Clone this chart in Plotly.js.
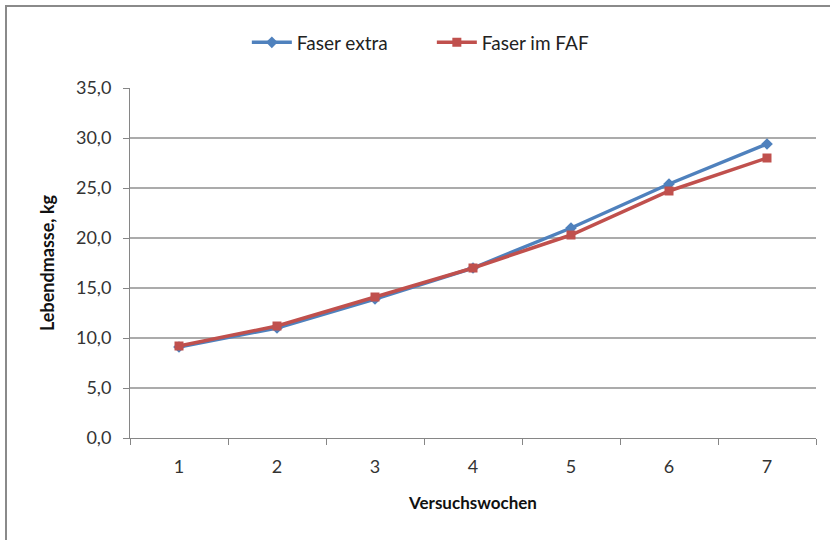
<!DOCTYPE html>
<html>
<head>
<meta charset="utf-8">
<script src="https://cdn.plot.ly/plotly-3.0.1.min.js"></script>
<style>
  html, body { margin: 0; padding: 0; background: #fff; }
  #wrap { position: relative; width: 830px; height: 540px; overflow: hidden; }
  #chart { position: absolute; left: 0; top: 0; width: 830px; height: 540px; }
  #frame { position: absolute; left: 5px; top: 5px; width: 900px; height: 600px;
           border-left: 2px solid #8a8a8a; border-top: 2px solid #8a8a8a; pointer-events: none; }
</style>
</head>
<body>
<div id="wrap">
  <div id="chart"></div>
  <div id="frame"></div>
</div>
<script>
const weeks = ["1", "2", "3", "4", "5", "6", "7"];
const faserExtra = [9.1, 11.0, 13.9, 17.0, 21.0, 25.4, 29.4];
const faserImFAF = [9.2, 11.2, 14.1, 17.0, 20.3, 24.7, 28.0];
const yTicks = [0, 5, 10, 15, 20, 25, 30, 35];

const FONT = "Lato, 'Noto Sans', sans-serif";

const traces = [
  {
    x: weeks, y: faserExtra, name: "Faser extra", type: "scatter", mode: "lines+markers",
    line: { color: "#4F81BD", width: 3.5 },
    marker: { symbol: "diamond", size: 9, color: "#4F81BD" }
  },
  {
    x: weeks, y: faserImFAF, name: "Faser im FAF", type: "scatter", mode: "lines+markers",
    line: { color: "#C0504D", width: 3.5 },
    marker: { symbol: "square", size: 9, color: "#C0504D" }
  }
];

const layout = {
  width: 830, height: 540,
  margin: { l: 130, r: 14, t: 88, b: 102 },
  paper_bgcolor: "#fff", plot_bgcolor: "#fff",
  font: { family: FONT, size: 18, color: "#333" },
  separators: ", ",
  showlegend: true,
  legend: {
    orientation: "h", x: 0.44, xanchor: "center", y: 1.13, yanchor: "middle",
    font: { family: FONT, size: 19, color: "#222" },
    itemwidth: 40,
    entrywidth: 130, entrywidthmode: "pixels"
  },
  xaxis: {
    type: "category",
    range: [-0.5, 6.5],
    showgrid: false,
    showline: true, linecolor: "#868686", linewidth: 1,
    ticks: "outside", tickson: "boundaries", ticklen: 6, tickcolor: "#868686",
    ticklabelstandoff: 12,
    tickfont: { family: FONT, size: 18, color: "#333" },
    title: { text: "<b>Versuchswochen</b>", font: { family: FONT, size: 17, color: "#111" }, standoff: 21 },
    zeroline: false
  },
  yaxis: {
    range: [0, 35],
    tickvals: yTicks,
    tickformat: ".1f",
    showgrid: true, gridcolor: "#ababab", gridwidth: 1.5,
    showline: true, linecolor: "#868686", linewidth: 1,
    ticks: "outside", ticklen: 6, tickcolor: "#868686",
    ticklabelstandoff: 8,
    tickfont: { family: FONT, size: 18, color: "#333" },
    title: { text: "<b>Lebendmasse, kg</b>", font: { family: FONT, size: 18, color: "#111" }, standoff: 16 },
    zeroline: false
  }
};

Plotly.newPlot("chart", traces, layout, { displayModeBar: false, staticPlot: true });
</script>
</body>
</html>
